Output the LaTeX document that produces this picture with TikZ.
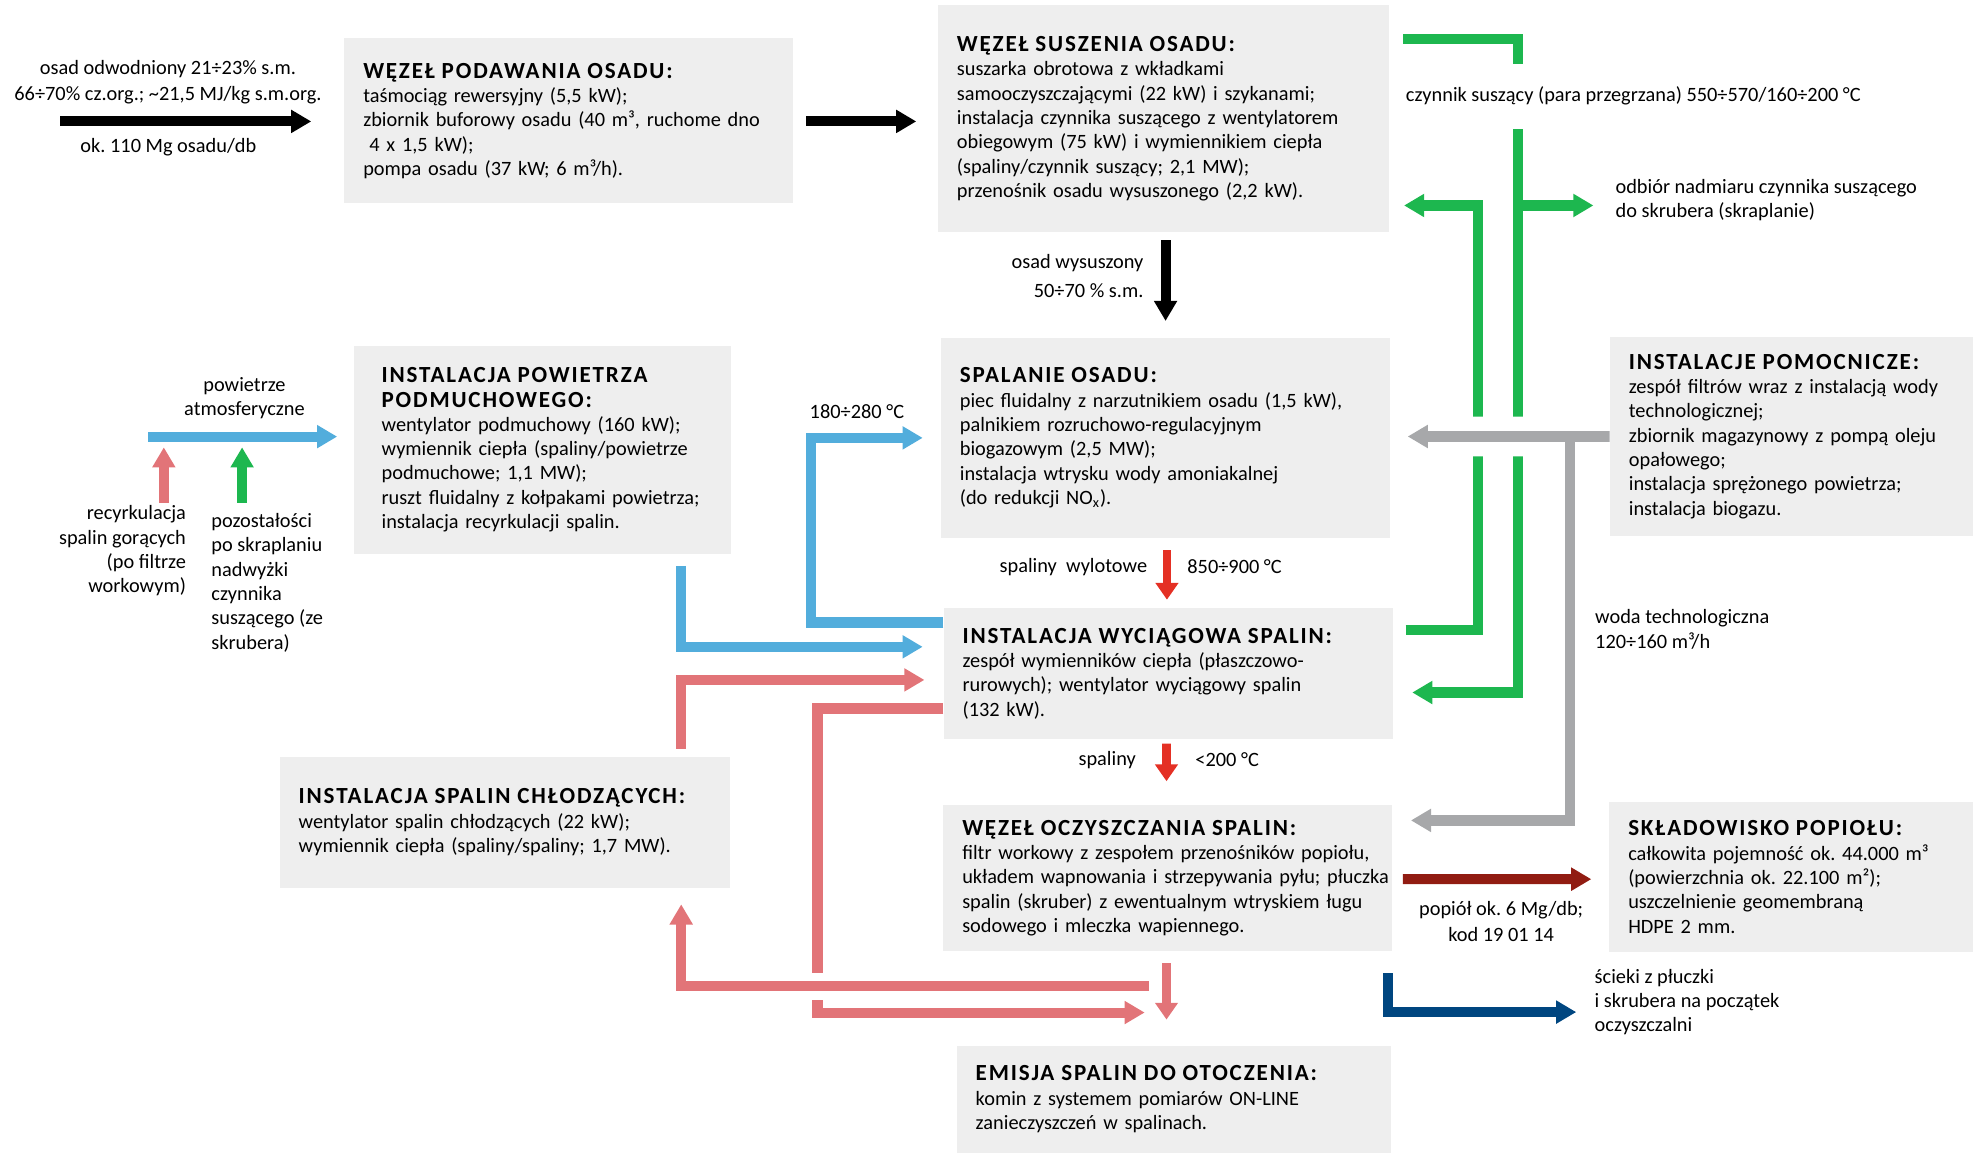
\documentclass[tikz,border=0pt]{standalone}
\usepackage{fontspec}
\setmainfont{Carlito}
\newfontfamily\tytulfont[LetterSpace=8.0]{Carlito}
\usepackage{xcolor}
\usepackage{tikz}
\usetikzlibrary{arrows.meta, calc}

\definecolor{boxgray}{RGB}{238,238,238}
\definecolor{airblue}{RGB}{82,173,220}
\definecolor{steamgreen}{RGB}{29,183,79}
\definecolor{gaspink}{RGB}{226,116,120}
\definecolor{hotred}{RGB}{228,48,36}
\definecolor{auxgray}{RGB}{167,168,170}
\definecolor{ashred}{RGB}{145,28,18}
\definecolor{sewblue}{RGB}{0,70,128}

\newcommand{\tytul}[1]{\mbox{\tytulfont\bfseries\fontsize{11}{11.6}\selectfont #1}}
\frenchspacing

\begin{document}
\begin{tikzpicture}[x=0.6pt, y=-0.6pt, font=\fontsize{9.7}{11.6}\selectfont]
        % --- style ---
        \tikzstyle{box} = [
            rectangle,
            fill=boxgray,
            inner xsep=9pt,
            inner ysep=0pt,
            align=left
        ]
        \tikzstyle{opis} = [inner sep=0pt, align=left]
        \tikzstyle{flow} = [line width=4.8pt, -{Triangle[length=9.6pt, width=10.5pt]}]
        \tikzstyle{thin flow} = [line width=4.1pt, -{Triangle[length=8pt, width=10.5pt]}]
        \tikzstyle{pipe} = [line width=4.8pt]

        \useasboundingbox (0,0) rectangle (1568,916);

        % --- wezly (bloki) ---
        \node (podaw) [box, text width=196.1pt, minimum height=78.6pt] at (452.1,96)
            {\tytul{WĘZEŁ PODAWANIA OSADU:}\\
             taśmociąg rewersyjny (5,5 kW);\\
             zbiornik buforowy osadu (40 m³, ruchome dno\\
             \hspace*{0.3em}4 x 1,5 kW);\\
             pompa osadu (37 kW; 6 m³/h).};
        \node (susz) [box, text width=197.1pt, minimum height=108.4pt] at (924.75,94.3)
            {\tytul{WĘZEŁ SUSZENIA OSADU:}\\
             suszarka obrotowa z wkładkami\\
             samooczyszczającymi (22 kW) i szykanami;\\
             instalacja czynnika suszącego z wentylatorem\\
             obiegowym (75 kW) i wymiennikiem ciepła\\
             (spaliny/czynnik suszący; 2,1 MW);\\
             przenośnik osadu wysuszonego (2,2 kW).};
        \node (powietrza) [box, inner xsep=13.2pt, text width=153.2pt, minimum height=99.4pt] at (430.95,357.5)
            {\tytul{INSTALACJA POWIETRZA}\\
             \tytul{PODMUCHOWEGO:}\\
             wentylator podmuchowy (160 kW);\\
             wymiennik ciepła (spaliny/powietrze\\
             podmuchowe; 1,1 MW);\\
             \mbox{ruszt fluidalny z kołpakami powietrza;}\\
             instalacja recyrkulacji spalin.};
        \node (spal) [box, text width=196.2pt, minimum height=95.5pt] at (926.3,348)
            {\tytul{SPALANIE OSADU:}\\
             piec fluidalny z narzutnikiem osadu (1,5 kW),\\
             palnikiem rozruchowo-regulacyjnym\\
             biogazowym (2,5 MW);\\
             instalacja wtrysku wody amoniakalnej\\
             (do redukcji NO\textsubscript{x}).};
        \node (pomoc) [box, text width=155.1pt, minimum height=94.6pt] at (1423.75,346.9)
            {\tytul{INSTALACJE POMOCNICZE:}\\
             zespół filtrów wraz z instalacją wody\\
             technologicznej;\\
             zbiornik magazynowy z pompą oleju\\
             opałowego;\\
             instalacja sprężonego powietrza;\\
             instalacja biogazu.};
        \node (wyciag) [box, text width=196.1pt, minimum height=62.3pt] at (928.4,535.35)
            {\tytul{INSTALACJA WYCIĄGOWA SPALIN:}\\
             zespół wymienników ciepła (płaszczowo-\\
             rurowych); wentylator wyciągowy spalin\\
             (132 kW).};
        \node (chlodz) [box, text width=196.9pt, minimum height=62.4pt] at (401.45,653.4)
            {\tytul{INSTALACJA SPALIN CHŁODZĄCYCH:}\\
             wentylator spalin chłodzących (22 kW);\\
             wymiennik ciepła (spaliny/spaliny; 1,7 MW).};
        \node (oczysz) [box, text width=196.1pt, minimum height=69.8pt] at (928.15,697.85)
            {\tytul{WĘZEŁ OCZYSZCZANIA SPALIN:}\\
             \mbox{filtr workowy z zespołem przenośników popiołu,}\\
             \mbox{układem wapnowania i strzepywania pyłu; płuczka}\\
             spalin (skruber) z ewentualnym wtryskiem ługu\\
             sodowego i mleczka wapiennego.};
        \node (sklad) [box, text width=155.4pt, minimum height=71.4pt] at (1423.5,697)
            {\tytul{SKŁADOWISKO POPIOŁU:}\\
             całkowita pojemność ok. 44.000 m³\\
             (powierzchnia ok. 22.100 m²);\\
             uszczelnienie geomembraną\\
             HDPE 2 mm.};
        \node (emisja) [box, text width=188.9pt, minimum height=50.8pt] at (932.85,873.65)
            {\tytul{EMISJA SPALIN DO OTOCZENIA:}\\
             komin z systemem pomiarów ON-LINE\\
             zanieczyszczeń w spalinach.};

        % --- opisy ---
        \node (wej_opis) [opis, align=center] at (133.5,65)
            {osad odwodniony 21÷23\% s.m.\\[0.8pt] 66÷70\% cz.org.; \textasciitilde21,5 MJ/kg s.m.org.};
        \node (wej_ilosc) [opis] at (133.8,116.6) {ok. 110 Mg osadu/db};
        \node (susz_opis) [opis, align=right, anchor=east] at (909,219.2)
            {osad wysuszony\\[2pt] 50÷70 \% s.m.};
        \node (wyl_opis) [opis, anchor=east] at (912,450.4) {spaliny\ \ wylotowe};
        \node (wyl_temp) [opis, anchor=west] at (943.3,450.4) {850÷900 °C};
        \node (spaliny_opis) [opis, anchor=east] at (903,604) {spaliny};
        \node (spaliny_temp) [opis, anchor=west] at (949.7,604) {<200 °C};
        \node (pow_temp) [opis] at (681,327.2) {180÷280 °C};
        \node (atm_opis) [opis, align=center] at (194.3,316.5) {powietrze\\ atmosferyczne};
        \node (recyrk_opis) [opis, align=right, anchor=east] at (148.1,437.8)
            {recyrkulacja\\ spalin gorących\\ (po filtrze\\ workowym)};
        \node (skrapl_opis) [opis, anchor=west] at (167.7,463.1)
            {pozostałości\\ po skraplaniu\\ nadwyżki\\ czynnika\\ suszącego (ze\\ skrubera)};
        \node (para_opis) [opis, anchor=west] at (1117,76.5)
            {czynnik suszący (para przegrzana) 550÷570/160÷200 °C};
        \node (odbior_opis) [opis, anchor=west] at (1283.6,159)
            {odbiór nadmiaru czynnika suszącego\\ do skrubera (skraplanie)};
        \node (woda_opis) [opis, anchor=west] at (1267.4,500.3)
            {woda technologiczna\\ 120÷160 m³/h};
        \node (popiol_opis) [opis, align=center] at (1193,732.4)
            {popiół ok. 6 Mg/db;\\[1pt] kod 19 01 14};
        \node (scieki_opis) [opis, anchor=west] at (1267,796.5)
            {ścieki z płuczki\\ i skrubera na początek\\ oczyszczalni};

        % --- punkty swobodne ---
        \coordinate (wejscie) at (48,96.5);
        \coordinate (atm) at (118,347);
        \coordinate (recyrk) at (130.2,399.5);
        \coordinate (skrapl) at (192.4,399.5);
        \coordinate (rozgal) at ($(pomoc.west)+(-31.5,0)$);

        % --- osad ---
        \draw [flow] (wejscie) -- ($(podaw.west)+(-26,0.5)$);
        \draw [flow] ($(podaw.east)+(10,0.5)$) -- ($(podaw.east -| susz.west)+(-17,0.5)$);
        \draw [flow] ($(susz.south -| spal.north)+(0,6)$) -- ($(spal.north)+(0,-13)$);

        % --- powietrze ---
        \draw [flow, airblue] (atm) -- ($(powietrza.west)+(-13,-10.5)$);
        \draw [flow, gaspink] (recyrk) -- (recyrk |- atm) [shorten >=5.1pt];
        \draw [flow, steamgreen] (skrapl) -- (skrapl |- atm) [shorten >=5.1pt];
        \draw [flow, airblue] ($(powietrza.south east)+(-40,9)$) |- ($(wyciag.west)+(-16.4,-21.3)$);
        \draw [flow, airblue] ($(wyciag.north west)+(0,11.6)$) -| ($(spal.west)+(-103,0)$) -- ($(spal.west)+(-14.2,0)$);

        % --- czynnik suszacy ---
        \draw [flow, steamgreen] ($(wyciag.east)+(10,-35)$) -| ($(susz.east)+(70,69)$) -- ($(susz.east)+(11.5,69)$);
        \draw [pipe, steamgreen] ($(susz.north east)+(11,27.5)$) -| ($(susz.north east)+(102,47)$);
        \draw [flow, steamgreen] ($(susz.north east)+(102,99)$) |- ($(wyciag.east)+(15.2,15)$);
        \draw [flow, steamgreen] ($(susz.east)+(102,69)$) -- ($(susz.east)+(162,69)$);

        % --- instalacje pomocnicze ---
        \draw [flow, auxgray, line width=5.2pt, preaction={draw=white, line width=19pt, -}]
            (pomoc.west) -- ($(spal.east)+(13.6,-1.1)$);
        \draw [flow, auxgray, line width=5.2pt] (rozgal) |- ($(oczysz.east)+(14.4,-45.85)$);

        % --- spaliny ---
        \draw [thin flow, hotred] ($(spal.south)+(1.1,9.5)$) -- ($(wyciag.north)+(-1,-6.5)$);
        \draw [thin flow, hotred] ($(wyciag.south)+(-1.4,3.3)$) -- ($(oczysz.north)+(-1.1,-18.5)$);
        \draw [flow, gaspink] ($(chlodz.north east)+(-39.5,-6)$) |- ($(wyciag.west)+(-15,5)$);
        \draw [flow, gaspink] ($(wyciag.west)+(0,27.7)$) -| ($(emisja.north west)+(-110.4,-26.3)$)
            -- ($(emisja.north west)+(149.6,-26.3)$);
        \draw [flow, gaspink, preaction={draw=white, line width=13.2pt, -}]
            ($(oczysz.south)+(-15,27.6)$) -| ($(chlodz.south east)+(-39.5,13)$);
        \draw [thin flow, gaspink, line width=3.9pt] ($(oczysz.south)+(-1.1,9)$) -- ($(emisja.north)+(-5.8,-20.7)$);

        % --- popiol i scieki ---
        \draw [flow, ashred] ($(oczysz.east)+(8,0.85)$) -- ($(sklad.west)+(-14,1.7)$);
        \draw [flow, sewblue] ($(oczysz.south east)+(-4,17)$) |- ($(sklad.south west)+(-26,47.5)$);
    \end{tikzpicture}
\end{document}
